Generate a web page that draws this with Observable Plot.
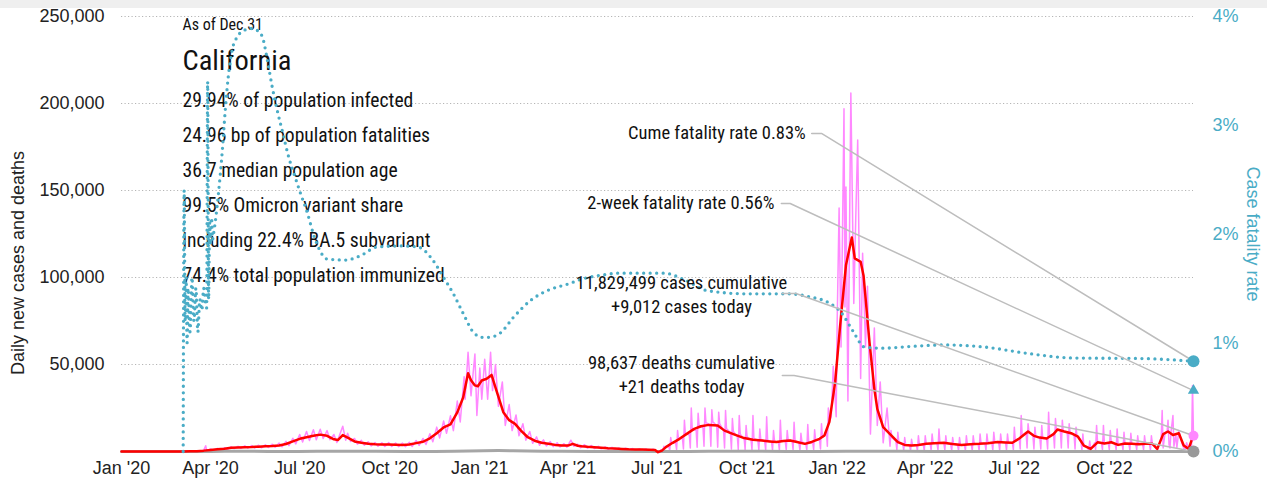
<!DOCTYPE html>
<html>
<head>
<meta charset="utf-8">
<script src="https://cdn.jsdelivr.net/npm/d3@7"></script>
<script src="https://cdn.jsdelivr.net/npm/@observablehq/plot@0.6"></script>
<style>
html, body { margin: 0; padding: 0; background: #fff; }
#strip { height: 8px; background: #efefef; }
#chart svg { display: block; overflow: visible; }
</style>
</head>
<body>
<div id="strip"></div>
<div id="chart"></div>
<script>
// ---------- DATA (days counted from 2020-01-01; cases in thousands) ----------
const START = Date.UTC(2020, 0, 1);

// 7-day average of daily new cases (red)
const avgDays = [0,56,63,70,77,84,91,98,105,112,119,126,133,140,147,154,161,168,175,182,189,196,203,210,217,221,226,231,238,245,252,259,266,273,280,287,294,301,308,315,322,329,336,343,349,354,357,361,364,368,373,378,383,390,396,402,408,415,422,429,436,443,450,456,461,466,470,476,483,490,497,504,511,518,525,532,539,545,548,552,556,563,570,577,585,592,600,609,616,625,636,645,654,662,669,676,683,690,698,705,713,718,723,729,734,740,746,749,752,755,758,764,769,772,778,785,793,800,807,814,822,830,840,849,858,867,876,885,895,903,910,917,926,932,938,945,952,956,963,970,977,983,990,997,1004,1011,1018,1025,1032,1039,1046,1053,1058,1064,1069,1074,1080,1085,1090,1095];
const avgCasesK = [0,0,0.02,0.08,0.2,0.5,0.9,1.3,1.6,2.1,2.3,2.5,2.6,2.8,3.0,3.2,3.5,4.3,5.8,7.3,8.2,9.0,9.7,9.0,7.0,6.6,9.4,8.0,5.8,5.0,4.4,4.1,4.0,4.0,3.9,3.8,4.0,4.8,5.6,7.6,10.5,13.8,15.6,22.5,31,45,41,38,37.5,40.8,41.8,44,35,22.6,18,15.9,12,8.2,6.2,5.0,4.4,3.8,3.5,3.4,4.4,3.3,3.0,2.7,2.5,2.2,1.9,1.7,1.5,1.3,1.2,1.1,1.0,0.9,-0.4,0.5,2.5,5.0,7.3,10,13,14.5,15.3,15,12,10,7.7,6.8,6.3,5.8,5.4,6.0,6.3,5.5,4.4,5.5,7.3,9.2,16.9,40,72,107,123,111,110,109,101,63,36,24.5,14,10,5.4,3.8,3.4,3.8,4.4,4.8,5.0,4.3,3.8,4.2,4.4,4.8,5.4,5.2,5.0,7.5,11.5,9,8,7.5,10,12.6,11.5,10.5,8.5,3.4,1.5,5.3,4.6,5.3,3.8,4.6,4.4,4.2,4.4,4.4,1.5,10,11.5,9.5,10.5,3.4,1.5,9.5];

// Daily new cases (pink): [day, thousands]
const dailyCases = [[0,0],[60,0],[63,0.05],[66,0.02],[70,0.15],[73,0.05],[77,0.3],[80,0.15],[84,0.8],[86,3.3],[87,0.5],[91,1.4],[94,0.8],[98,1.8],[101,1.0],[105,2.1],[108,1.2],[112,2.7],[115,1.6],[119,3.0],[122,1.8],[126,3.3],[129,1.9],[133,3.4],[136,2.0],[140,3.6],[143,2.1],[147,3.9],[150,2.3],[154,4.2],[157,2.5],[161,4.8],[164,2.7],[168,5.8],[171,3.4],[175,7.6],[178,4.4],[182,9.8],[185,5.5],[189,11.5],[192,6.3],[196,12.5],[199,6.8],[203,12.8],[206,7.5],[210,12.0],[213,6.8],[217,9.8],[220,5.2],[226,14.5],[229,6.5],[231,10.5],[234,5.8],[238,7.5],[241,4.2],[245,6.4],[248,3.6],[252,5.6],[255,3.2],[259,5.2],[262,3.0],[266,5.0],[269,2.9],[273,5.1],[276,2.9],[280,4.9],[283,2.8],[287,4.8],[290,2.8],[294,5.3],[297,2.9],[301,6.3],[304,3.5],[308,7.5],[311,4.0],[315,10.2],[318,5.6],[322,14.0],[325,7.8],[329,17.5],[332,10.5],[336,20.5],[339,12.0],[343,29],[346,17],[350,43],[351,30],[354,57],[357,32],[361,56],[363,20.7],[366,48],[368,30],[371,53],[374,30],[377,57],[379,35],[382,50],[385,26],[389,40],[392,15],[396,27],[399,12],[403,21],[406,9],[410,16],[413,6.5],[417,11.5],[420,4.7],[424,8.4],[427,3.6],[431,6.7],[434,3.2],[438,5.7],[441,2.8],[445,5.0],[448,2.6],[452,4.5],[455,2.5],[459,6.5],[462,3.0],[466,4.2],[469,2.2],[473,3.9],[476,1.9],[480,3.4],[483,1.7],[487,3.0],[490,1.5],[494,2.7],[497,1.3],[501,2.4],[504,1.1],[508,2.1],[511,1.0],[515,1.9],[518,0.9],[522,1.7],[525,0.8],[529,1.5],[532,0.7],[536,1.4],[539,0.4],[543,1.4],[546,0.0],[549,-0.6],[551,1.0],
[553,0.3],[554,3.0],[555,1.5],[557,2.8],[559,3.0],
[560,0.5],[561,8],[562,4.5],[564,5],[566,5],
[567,1],[568,12],[569,7],[571,7.5],[573,7.5],
[574,1.5],[575,18],[576,10],[578,10],[580,9.5],
[581,2],[582,25],[583,13],[585,12.5],[587,12],
[588,2.5],[589,22],[590,15],[592,14.5],[594,13.5],
[595,3],[596,25],[597,16.5],[599,16],[601,15],
[602,3],[603,24],[604,17],[606,16],[608,14.5],
[609,2.5],[610,22.6],[611,16],[613,14],[615,12],
[616,2],[617,23.6],[618,13],[620,12],[622,10.5],
[623,1.5],[624,19],[625,11.5],[627,10],[629,9],
[630,1.2],[631,20.7],[632,10],[634,8.5],[636,7.5],
[637,1],[638,15],[639,8.5],[641,7.5],[643,7],
[644,1],[645,20.7],[646,7.5],[648,7],[650,6.5],
[651,1],[652,13],[653,7],[655,6.5],[657,6],
[658,0.8],[659,20],[660,6.5],[662,6],[664,5.5],
[665,0.8],[666,12],[667,6],[669,5.5],[671,5.5],
[672,0.8],[673,18],[674,6],[676,6],[678,6],
[679,1],[680,12],[681,6.5],[683,6.5],[685,6],
[686,1],[687,16.8],[688,6.5],[690,5.5],[692,5],
[693,0.8],[694,10.5],[695,5.5],[697,5],[699,4.5],
[700,0.8],[701,15.5],[702,5],[704,5],[706,5.5],
[707,1],[708,12.5],[709,6.5],[711,6.5],[713,7],
[714,1.5],[715,16],[716,8],[718,9],[720,12],
[721,3],[722,25],[723,17],[725,20],[727,49],[730,20],[731,74],[733,140],[735,60],[738,197],[739,83],[740,152],[742,29],[745,206],[748,85],[750,134],[752,179],[755,42],[757,114],[760,60],[762,95],[765,10],[769,71],[772,15],[775,40],[778,5],[782,25],
[785,3],[786,12],[787,8],[789,7],[791,6],
[792,1],[793,11],[794,5.5],[796,5],[798,4.5],
[799,0.8],[800,8],[801,4],[803,3.8],[805,3.5],
[806,0.5],[807,7],[808,3.5],[810,3.5],[812,3.5],
[813,0.5],[814,9],[815,4],[817,3.8],[819,4],
[820,0.5],[821,9],[822,4.5],[824,4.5],[826,4.5],
[827,0.8],[828,10],[829,5],[831,4.8],[833,4.8],
[834,0.8],[835,13],[836,5],[838,5],[840,5],
[841,0.8],[842,9],[843,4.5],[845,4.5],[847,4.3],
[848,0.5],[849,8],[850,4.2],[852,4],[854,3.8],
[855,0.5],[856,8],[857,4],[859,3.8],[861,4],
[862,0.5],[863,9],[864,4.2],[866,4.2],[868,4.2],
[869,0.5],[870,9],[871,4.5],[873,4.3],[875,4.4],
[876,0.5],[877,10],[878,4.6],[880,4.6],[882,4.7],
[883,0.8],[884,10],[885,5],[887,5],[889,5.2],
[890,0.8],[891,11],[892,5.5],[894,5.5],[896,5.3],
[897,0.8],[898,10],[899,5.3],[901,5.2],[903,5.2],
[904,0.8],[905,10],[906,5],[908,5],[910,5],
[911,1],[912,14],[913,6],[915,6.5],[917,7.5],
[918,1.5],[919,20.7],[920,9],[922,10],[924,11],
[925,2],[926,16],[927,11],[929,10],[931,9],
[932,1.5],[933,14],[934,8.5],[936,8],[938,8],
[939,1.5],[940,15],[941,7.5],[943,7.5],[945,7.5],
[946,1.5],[947,22.6],[948,8.5],[950,9.5],[952,10.5],
[953,2],[954,19],[955,12],[957,12.5],[959,12],
[960,2],[961,18],[962,11.5],[964,11.5],[966,11],
[967,2],[968,16],[969,10.5],[971,10],[973,9.5],
[974,1.5],[975,14],[976,9],[978,8],[980,6],
[981,1],[982,10],[983,3.5],[985,3],[987,2],
[988,0.5],[989,6],[990,1.5],[992,3],[994,5],
[995,1],[996,15],[997,5.5],[999,5],[1001,4.8],
[1002,1],[1003,15],[1004,4.6],[1006,4.8],[1008,5],
[1009,1],[1010,12],[1011,5.3],[1013,5],[1015,4.2],
[1016,1],[1017,13],[1018,3.8],[1020,4],[1022,4.5],
[1023,1],[1024,11],[1025,4.6],[1027,4.5],[1029,4.4],
[1030,1],[1031,10.5],[1032,4.4],[1034,4.3],[1036,4.2],
[1037,1],[1038,9],[1039,4.2],[1041,4.3],[1043,4.4],
[1044,1],[1045,9],[1046,4.4],[1048,4.4],[1050,4.4],
[1051,0.8],[1052,9],[1053,4.4],[1055,3],[1057,1.5],
[1058,0.5],[1059,3],[1060,4],[1062,8],[1063,23.6],
[1064,2],[1066,11],[1068,11.5],[1069,18],[1070,4],
[1071,2],[1072,11],[1074,20.7],[1075,3],[1077,9.5],
[1078,2],[1080,12],[1081,10],[1083,5],[1085,2],
[1086,0.5],[1088,5],[1090,1.5],[1091,0.5],[1093,2],
[1094,38],[1095,9.012]];

// Daily deaths (gray), thousands
const deathDays = [0,63,80,91,105,120,150,180,200,230,260,290,320,340,355,370,385,400,415,430,450,480,520,550,580,600,620,650,680,710,740,760,780,800,830,870,920,960,1000,1040,1080,1095];
const deathsK = [0,0,0.01,0.03,0.08,0.08,0.07,0.07,0.12,0.13,0.09,0.05,0.05,0.15,0.3,0.5,0.55,0.45,0.35,0.2,0.1,0.05,0.03,0.02,0.04,0.08,0.1,0.08,0.05,0.05,0.1,0.18,0.2,0.1,0.04,0.03,0.04,0.05,0.03,0.03,0.04,0.021];

// Cumulative case fatality rate (%), right axis
const cfrDays = [63,64,65,66,67,68,70,72,74,76,78,80,82,84,86,87,88,89,90,91,92,93,94,99,103,106,109,113,118,125,132,139,144,149,154,159,165,171,176,183,190,196,201,210,229,244,261,285,303,318,329,339,349,360,369,375,387,400,418,435,456,472,489,510,554,575,598,639,681,704,722,735,747,759,776,813,841,882,927,972,1041,1095];
const cfrPct = [0,2.4,1.2,1.6,1.0,1.5,1.1,1.6,1.2,1.5,1.1,1.4,1.3,1.5,1.35,1.32,3.4,1.4,2.1,1.9,2.15,1.95,2.0,2.37,2.77,3.14,3.44,3.69,3.81,3.87,3.89,3.87,3.81,3.6,3.35,3.14,2.92,2.7,2.56,2.37,2.19,2.0,1.88,1.77,1.76,1.8,1.88,1.89,1.88,1.76,1.6,1.45,1.27,1.09,1.05,1.05,1.09,1.23,1.39,1.48,1.54,1.59,1.62,1.64,1.64,1.58,1.48,1.45,1.45,1.42,1.37,1.28,1.11,0.96,0.95,0.97,0.98,0.96,0.9,0.86,0.855,0.83];

// Latest values
const lastDay = 1095;
const cumeFatalityPct = 0.83;
const twoWeekFatalityPct = 0.56;
const casesTodayK = 9.012;
const deathsTodayK = 0.021;

// Ticks
const leftTicks = [50000, 100000, 150000, 200000, 250000];
const rightTicksPct = [0, 1, 2, 3, 4];
const xTickMonths = ["2020-01","2020-04","2020-07","2020-10","2021-01","2021-04","2021-07","2021-10","2022-01","2022-04","2022-07","2022-10"];

// Texts
const asOf = "As of Dec 31";
const stateName = "California";
const stats = ["29.94% of population infected","24.96 bp of population fatalities","36.7 median population age","99.5% Omicron variant share","including 22.4% BA.5 subvariant","74.4% total population immunized"];
// annotation lines: text, anchor day, value (thousands), text-anchor
const annoLines = [
  {text: "Cume fatality rate 0.83%", day: 699, k: 182.8, anchor: "end"},
  {text: "2-week fatality rate 0.56%", day: 667, k: 142.5, anchor: "end"},
  {text: "11,829,499 cases cumulative", day: 572, k: 96.6, anchor: "middle"},
  {text: "+9,012 cases today", day: 572, k: 82.8, anchor: "middle"},
  {text: "98,637 deaths cumulative", day: 572, k: 50.6, anchor: "middle"},
  {text: "+21 deaths today", day: 572, k: 36.8, anchor: "middle"}
];
// leader lines: start point (day, k), elbow day, target series
const leaders = [
  {id: "cume", day: 705, elbow: 715, k: 182.8},
  {id: "two", day: 674, elbow: 683, k: 142.5},
  {id: "cases", day: 675, elbow: 689, k: 90.8},
  {id: "deaths", day: 675, elbow: 687, k: 43.7}
];

// ---------- BUILD ----------
const toDate = d => new Date(START + d * 864e5);
const PCT = 250000 / 4; // 1% on the right axis in left-axis units
const TEAL = "#4aacc6", PINK = "#ff88ff", RED = "#ff0000", GRAY = "#a6a6a6", LEAD = "#bdbdbd";
const SANS = '"Liberation Sans", Arial, sans-serif';
const NARROW = '"Liberation Sans Narrow", "Arial Narrow", "Roboto Condensed", "DejaVu Sans Condensed", sans-serif';

const avgRows = avgDays.map((d, i) => ({date: toDate(d), v: avgCasesK[i] * 1000}));
const dailyRows = dailyCases.map(([d, k]) => ({date: toDate(d), v: k * 1000}));
const deathRows = deathDays.map((d, i) => ({date: toDate(d), v: deathsK[i] * 1000}));
const cfrRows = cfrDays.map((d, i) => ({date: toDate(d), v: cfrPct[i] * PCT}));
const targets = {
  cume: cumeFatalityPct * PCT,
  two: twoWeekFatalityPct * PCT,
  cases: casesTodayK * 1000,
  deaths: deathsTodayK * 1000
};
const leaderRows = leaders.flatMap(l => [
  {id: l.id, date: toDate(l.day), v: l.k * 1000},
  {id: l.id, date: toDate(l.elbow), v: l.k * 1000},
  {id: l.id, date: toDate(lastDay), v: targets[l.id]}
]);
const xTicks = xTickMonths.map(s => new Date(s + "-01T00:00:00Z"));
const fmtMonth = d3.utcFormat("%b '%y");

const headerLine = (text, dy, size) => Plot.text([text], {
  frameAnchor: "top-left", dx: 61, dy, lineAnchor: "middle", textAnchor: "start",
  fontFamily: NARROW, fontSize: size, fill: "#111"
});
const annoMark = anchor => Plot.text(annoLines.filter(d => d.anchor === anchor), {
  x: d => toDate(d.day), y: d => d.k * 1000, text: "text", textAnchor: anchor, lineAnchor: "middle",
  fontFamily: NARROW, fontSize: 18.5, fill: "#111"
});

const chart = Plot.plot({
  width: 1267,
  height: 483,
  marginTop: 8,
  marginBottom: 40,
  marginLeft: 121,
  marginRight: 74,
  style: {fontFamily: SANS, fontSize: "18px", background: "transparent", overflow: "visible", color: "#222"},
  x: {type: "utc", domain: [toDate(0), toDate(lastDay)], axis: null},
  y: {domain: [0, 250000], axis: null},
  marks: [
    Plot.gridY(leftTicks, {stroke: "#b5b5b5", strokeOpacity: 1, strokeDasharray: "1.2,2.3", strokeWidth: 1}),
    Plot.axisY(leftTicks, {anchor: "left", tickSize: 0, tickPadding: 17, tickFormat: d3.format(","), label: null, fontSize: 18, color: "#222"}),
    Plot.axisY(rightTicksPct.map(p => p * PCT), {anchor: "right", tickSize: 0, tickPadding: 19, tickFormat: d => Math.round(d / PCT) + "%", label: null, fontSize: 18, color: TEAL}),
    Plot.axisX(xTicks, {anchor: "bottom", tickSize: 0, tickPadding: 10, tickFormat: fmtMonth, label: null, fontSize: 18, color: "#222"}),
    Plot.text(["Daily new cases and deaths"], {frameAnchor: "left", dx: -103, dy: 29, rotate: -90, textAnchor: "middle", fontFamily: SANS, fontSize: 18, fill: "#222"}),
    Plot.text(["Case fatality rate"], {frameAnchor: "right", dx: 59, dy: 0, rotate: 90, textAnchor: "middle", fontFamily: SANS, fontSize: 18, fill: TEAL}),
    headerLine(asOf, 8, 16),
    headerLine(stateName, 44, 28.5),
    ...stats.map((s, i) => headerLine(s, 84 + 35 * i, 19.6)),
    Plot.line(dailyRows, {x: "date", y: "v", stroke: PINK, strokeWidth: 1.5}),
    Plot.line(deathRows, {x: "date", y: "v", stroke: GRAY, strokeWidth: 3}),
    Plot.line(avgRows, {x: "date", y: "v", stroke: RED, strokeWidth: 2.5}),
    Plot.line(cfrRows, {x: "date", y: "v", stroke: TEAL, strokeWidth: 3.3, strokeDasharray: "0,6.5", strokeLinecap: "round", curve: "monotone-x"}),
    Plot.line(leaderRows, {x: "date", y: "v", z: "id", stroke: LEAD, strokeWidth: 1.5}),
    Plot.dot([targets.cume], {x: () => toDate(lastDay), y: d => d, r: 6, fill: TEAL}),
    Plot.dot([targets.two], {x: () => toDate(lastDay), y: d => d, r: 4.2, symbol: "triangle", fill: TEAL}),
    Plot.dot([targets.cases], {x: () => toDate(lastDay), y: d => d, r: 5, fill: PINK}),
    Plot.dot([targets.deaths], {x: () => toDate(lastDay), y: d => d, r: 6, fill: "#999"}),
    annoMark("end"),
    annoMark("middle")
  ]
});
document.getElementById("chart").appendChild(chart);
</script>
</body>
</html>
